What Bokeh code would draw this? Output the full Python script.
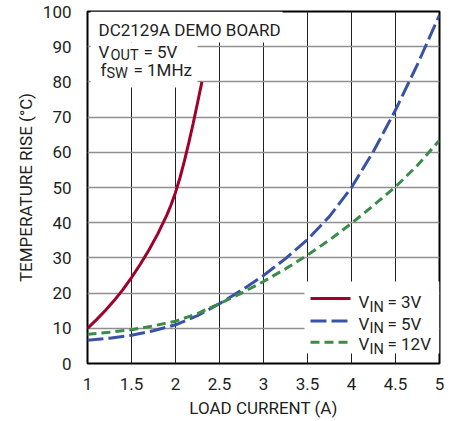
from bokeh.plotting import figure
from bokeh.models import Label, BoxAnnotation, FixedTicker, Range1d, NumeralTickFormatter
from bokeh.embed import file_html
from bokeh.resources import INLINE

# ---------------- data ----------------
load_current_3v = [1.0, 1.1, 1.2, 1.3, 1.4, 1.5, 1.6, 1.7, 1.8, 1.9, 1.95, 2.0, 2.05, 2.1, 2.15, 2.2, 2.25, 2.3]
temp_rise_3v = [10, 12.4, 15.0, 17.8, 20.9, 24.4, 28.2, 32.3, 36.9, 42.1, 45.1, 48.6, 52.7, 57.4, 62.6, 68.1, 74.0, 80.0]

load_current = [1.0, 1.25, 1.5, 1.75, 2.0, 2.25, 2.5, 2.75, 3.0, 3.25, 3.5, 3.75, 4.0, 4.25, 4.5, 4.75, 5.0]
temp_rise_5v = [6.6, 7.2, 8.0, 9.3, 11.0, 13.6, 17.0, 20.8, 25.0, 29.8, 35.2, 41.8, 50.0, 60.3, 72.0, 85.0, 99.0]
temp_rise_12v = [8.3, 8.9, 9.6, 10.7, 12.0, 14.2, 17.0, 20.0, 23.3, 26.9, 30.8, 35.1, 39.8, 44.9, 50.2, 56.3, 63.4]

x_ticks = [1, 1.5, 2, 2.5, 3, 3.5, 4, 4.5, 5]
y_ticks = [0, 10, 20, 30, 40, 50, 60, 70, 80, 90, 100]
series_names = ["V", "V", "V"]
series_subs = ["IN", "IN", "IN"]
series_values = ["= 3V", "= 5V", "= 12V"]
x_label = "LOAD CURRENT (A)"
y_label = "TEMPERATURE RISE (°C)"

# ---------------- style ----------------
FONT = "Roboto"
TXT = "#231f20"
RED, BLUE, GREEN = "#a0002c", "#3a52a6", "#3b8b49"
MAIN = "17px"
SUB = "14.5px"
STYLES = [dict(line_color=RED, line_width=3),
          dict(line_color=BLUE, line_width=3, line_dash="16 5"),
          dict(line_color=GREEN, line_width=3, line_dash="9 5")]

p = figure(frame_width=352, frame_height=352,
           x_range=Range1d(1, 5), y_range=Range1d(0, 100),
           output_backend="svg", toolbar_location=None,
           min_border_left=87, min_border_right=19, min_border_top=11, min_border_bottom=55,
           x_axis_label=x_label, y_axis_label=y_label)

p.xaxis.ticker = FixedTicker(ticks=x_ticks)
p.yaxis.ticker = FixedTicker(ticks=y_ticks)
p.xgrid.ticker = FixedTicker(ticks=x_ticks)
p.ygrid.ticker = FixedTicker(ticks=y_ticks)
p.xaxis.formatter = NumeralTickFormatter(format="0.[0]")

p.xgrid.grid_line_color = "#1e1e1e"
p.xgrid.grid_line_width = 1
p.ygrid.grid_line_color = "#8f8f8f"
p.ygrid.grid_line_width = 1.5

p.outline_line_color = "black"
p.outline_line_width = 2

for ax in p.axis:
    ax.axis_line_color = None
    ax.major_tick_line_color = None
    ax.minor_tick_line_color = None
    ax.major_label_text_font = FONT
    ax.major_label_text_font_size = MAIN
    ax.major_label_text_color = TXT
    ax.axis_label_text_font = FONT
    ax.axis_label_text_font_size = MAIN
    ax.axis_label_text_font_style = "normal"
    ax.axis_label_text_color = TXT
p.xaxis.major_label_standoff = 8
p.yaxis.major_label_standoff = 10
p.xaxis.axis_label_standoff = 5
p.yaxis.axis_label_standoff = 4

# frame pixel helpers (annotation placement only)
FX0, FY0, PXU, PYU = 87, 363, 88.0, 3.52
def dx(xp):
    return 1 + (xp - FX0) / PXU
def dy(yp):
    return (FY0 - yp) / PYU

# white boxes behind the condition text and the legend
for l, r, b, t in [(90, 282, 42, 11), (90, 197, 87, 42), (304, 439, 353, 281)]:
    p.add_layout(BoxAnnotation(left=dx(l), right=dx(r), bottom=dy(b), top=dy(t),
                               fill_color="white", fill_alpha=1, line_color=None,
                               level="underlay"))

p.line(load_current_3v, temp_rise_3v, **STYLES[0])
p.line(load_current, temp_rise_5v, **STYLES[1])
p.line(load_current, temp_rise_12v, **STYLES[2])

def txt(xp, yp, s, size=MAIN):
    p.add_layout(Label(x=dx(xp), y=dy(yp), text=s, text_font=FONT, text_font_size=size,
                       text_color=TXT, text_baseline="middle", text_align="left"))

# condition block
txt(98, 29, "DC2129A DEMO BOARD")
txt(98, 51, "V")
txt(110, 54.5, "OUT", SUB)
txt(143, 51, "= 5V")
txt(100, 69, "f")
txt(106, 73, "SW", SUB)
txt(133, 69, "= 1MHz")

# legend (samples + labels)
for i, (ly, ty) in enumerate([(298, 301.5), (320.5, 323), (341.7, 343.5)]):
    p.line([dx(310), dx(350)], [dy(ly), dy(ly)], **STYLES[i])
    txt(358, ty, series_names[i])
    txt(369, ty + 5, series_subs[i], SUB)
    txt(387, ty, series_values[i])

open("out.html", "w").write(file_html(p, INLINE))
